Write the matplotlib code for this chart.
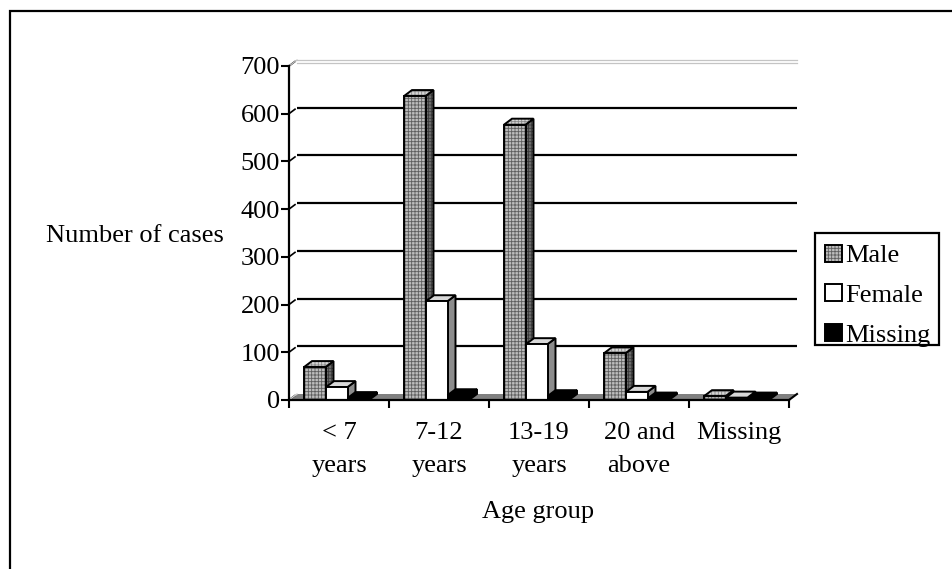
import matplotlib
matplotlib.use("Agg")
import matplotlib.pyplot as plt
from matplotlib.patches import Polygon, Rectangle, Patch
from matplotlib.legend_handler import HandlerTuple

# ---- data -------------------------------------------------------------
categories = ["< 7\nyears", "7-12\nyears", "13-19\nyears", "20 and\nabove", "Missing"]
male = [69, 637, 577, 98, 8]
female = [27, 207, 117, 17, 5]
missing = [4, 10, 8, 3, 3]
series_names = ["Male", "Female", "Missing"]
y_ticks = [0, 100, 200, 300, 400, 500, 600, 700]

# ---- style ------------------------------------------------------------
plt.rcParams["font.family"] = ["Liberation Serif", "DejaVu Serif"]
plt.rcParams["hatch.linewidth"] = 0.6
FS = 19

W, H = 952, 569
fig = plt.figure(figsize=(W / 100, H / 100), dpi=100)

# outer chart-area border (runs off the right and bottom of the image)
fig.patches.append(Rectangle((9.5 / W, -0.1), 1.2, 1 - 10.5 / H + 0.1,
                             transform=fig.transFigure, fill=False,
                             edgecolor="black", linewidth=1.6, zorder=0))

AX_L, AX_R, AX_T, AX_B = 289, 789, 66, 400
ax = fig.add_axes([AX_L / W, 1 - AX_B / H, (AX_R - AX_L) / W, (AX_B - AX_T) / H])
ncat = len(categories)
ax.set_xlim(0, ncat)
ax.set_ylim(0, 700)
ax.patch.set_visible(False)

# pixel -> data conversion for the pseudo-3D depth
PX_X = ncat / (AX_R - AX_L)
PX_Y = 700 / (AX_B - AX_T)
DX = 8 * PX_X
DY = 6 * PX_Y

# floor
ax.add_patch(Polygon([(0, 0), (ncat, 0), (ncat + DX, DY), (DX, DY)],
                     closed=True, facecolor="#808080", edgecolor="none",
                     zorder=1, clip_on=False))
ax.plot([0, DX], [0, DY], color="#d0d0d0", lw=1.0, zorder=1.5, clip_on=False)
ax.plot([ncat, ncat + DX], [0, DY], color="black", lw=1.5, zorder=1.5,
        clip_on=False)

# back-wall gridlines and side-wall ticks
for v in y_ticks[1:-1]:
    ax.plot([DX, ncat + DX], [v + DY, v + DY], color="black", lw=1.6,
            zorder=1, clip_on=False, solid_capstyle="butt")
for v in y_ticks:
    ax.plot([0, DX * 0.75], [v, v + DY * 0.75], color="black", lw=1.2,
            zorder=1, clip_on=False)
# top edge of the back wall
top = 700 + DY
for off in (0.0, 2.6 * PX_Y):
    ax.plot([DX, ncat + DX], [top - off, top - off], color="#c4c4c4",
            lw=0.9, zorder=1, clip_on=False)
ax.plot([0, DX], [700, top], color="#c4c4c4", lw=0.9, zorder=1, clip_on=False)

# ---- bars ---------------------------------------------------------------
BW = 0.215
offsets = [0.15, 0.37, 0.585]
styles = [
    # front, side, top, hatch, hatch colours (front, side, top)
    dict(front="#bdbdbd", side="#6e6e6e", top="#d6d6d6", hatch="+++++",
         hc=("#5e5e5e", "#3a3a3a", "#8a8a8a")),
    dict(front="white", side="#8c8c8c", top="#d8d8d8", hatch=None, hc=None),
    dict(front="black", side="black", top="black", hatch=None, hc=None),
]
series = [male, female, missing]


def face(poly_pts, fc, hatch, hc, z):
    if hatch:
        ax.add_patch(Polygon(poly_pts, closed=True, facecolor=fc, edgecolor=hc,
                             hatch=hatch, linewidth=0, zorder=z, clip_on=False))
        ax.add_patch(Polygon(poly_pts, closed=True, fill=False,
                             edgecolor="black", linewidth=1.4, zorder=z + 0.01,
                             joinstyle="miter", clip_on=False))
    else:
        ax.add_patch(Polygon(poly_pts, closed=True, facecolor=fc,
                             edgecolor="black", linewidth=1.4, zorder=z,
                             joinstyle="miter", clip_on=False))


z = 3
for i in range(ncat):
    for j, vals in enumerate(series):
        st = styles[j]
        h = vals[i]
        x0 = i + offsets[j]
        x1 = x0 + BW
        side = [(x1, 0), (x1 + DX, DY), (x1 + DX, h + DY), (x1, h)]
        topf = [(x0, h), (x1, h), (x1 + DX, h + DY), (x0 + DX, h + DY)]
        hc = st["hc"] or (None, None, None)
        face(side, st["side"], st["hatch"], hc[1], z)
        face(topf, st["top"], st["hatch"], hc[2], z + 0.1)
        # front face through the axes' bar routine
        if st["hatch"]:
            ax.bar(x0, h, width=BW, align="edge", color=st["front"],
                   edgecolor=hc[0], hatch=st["hatch"], linewidth=0,
                   zorder=z + 0.2)
            ax.bar(x0, h, width=BW, align="edge", fill=False,
                   edgecolor="black", linewidth=1.4, zorder=z + 0.21)
        else:
            ax.bar(x0, h, width=BW, align="edge", color=st["front"],
                   edgecolor="black", linewidth=1.4, zorder=z + 0.2)
        z += 1

# ---- axes decoration ------------------------------------------------------
for s in ("top", "right"):
    ax.spines[s].set_visible(False)
for s in ("left", "bottom"):
    ax.spines[s].set_linewidth(1.6)
    ax.spines[s].set_zorder(100)
ax.set_yticks(y_ticks)
ax.set_yticklabels([str(v) for v in y_ticks], fontsize=FS)
ax.tick_params(axis="y", direction="out", length=5.5, width=1.5, pad=1)

ax.set_xticks([i + 0.5 for i in range(ncat)])
ax.set_xticklabels(categories, fontsize=FS, linespacing=1.66)
ax.set_xticks(range(ncat + 1), minor=True)
ax.tick_params(axis="x", which="major", length=0, pad=16)
ax.tick_params(axis="x", which="minor", direction="out", length=5.5, width=1.5)

fig.text(46 / W, 1 - 236 / H, "Number of cases", fontsize=FS,
         ha="left", va="center")
fig.text(538 / W, 1 - 512 / H, "Age group", fontsize=FS,
         ha="center", va="center")

# ---- legend --------------------------------------------------------------
h_male = (Patch(facecolor=styles[0]["front"], edgecolor=styles[0]["hc"][0],
                hatch=styles[0]["hatch"], linewidth=0),
          Patch(fill=False, edgecolor="black", linewidth=1.4))
h_female = Patch(facecolor="white", edgecolor="black", linewidth=1.4)
h_missing = Patch(facecolor="black", edgecolor="black", linewidth=1.4)
leg = fig.legend([h_male, h_female, h_missing], series_names,
                 handler_map={tuple: HandlerTuple(ndivide=1)},
                 loc="upper left", bbox_to_anchor=(825 / W, 1 - 244.5 / H),
                 fontsize=FS, frameon=False, borderpad=0, labelspacing=0.64,
                 handlelength=0.65, handleheight=0.62, handletextpad=0.13,
                 borderaxespad=0)
# legend frame
fig.patches.append(Rectangle((814.5 / W, 1 - 344.5 / H), 124.5 / W, 112 / H,
                             transform=fig.transFigure, fill=False,
                             edgecolor="black", linewidth=1.6, zorder=5))

fig.savefig("out.png", dpi=100, facecolor="white")
